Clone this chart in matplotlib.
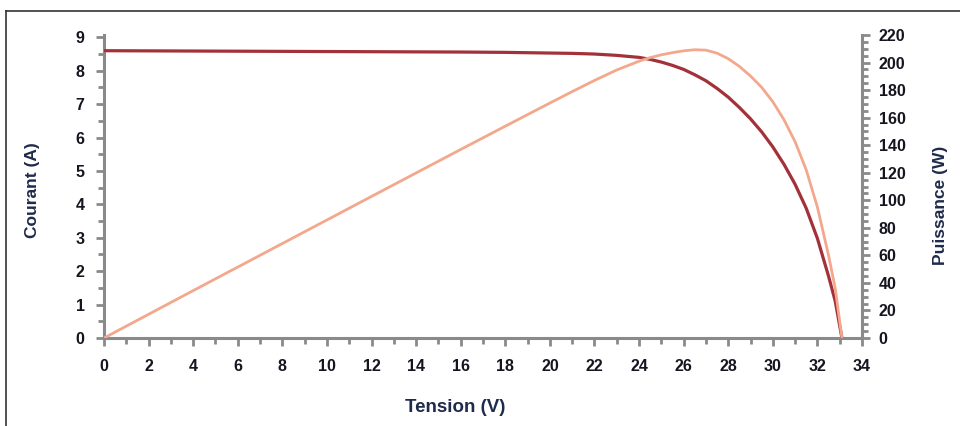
import numpy as np
import matplotlib
matplotlib.use('Agg')
import matplotlib.pyplot as plt
from matplotlib.ticker import MultipleLocator
from matplotlib.lines import Line2D

plt.rcParams['font.family'] = ['Liberation Sans', 'DejaVu Sans']
plt.rcParams['font.weight'] = 'bold'

# I-V characteristic of the panel
tension_iv = [0, 4, 8, 12, 16, 18, 20, 21, 22, 23, 24.0, 24.5, 25.0, 25.5, 26.0,
              26.5, 27.0, 27.5, 28.0, 28.5, 29.0, 29.5, 30.0, 30.5, 31.0, 31.5,
              32.0, 32.5, 32.8, 33.1]
courant = [8.60, 8.59, 8.58, 8.57, 8.56, 8.55, 8.53, 8.52, 8.50, 8.46, 8.40,
           8.34, 8.26, 8.16, 8.04, 7.88, 7.70, 7.47, 7.21, 6.90, 6.56, 6.17,
           5.72, 5.20, 4.60, 3.88, 2.98, 1.85, 1.10, 0.0]

# P-V characteristic of the panel
tension_pv = [0, 4, 8, 12, 16, 18, 20, 21, 22, 23, 24.0, 24.5, 25.0, 25.5, 26.0,
              26.5, 27.0, 27.5, 28.0, 28.5, 29.0, 29.5, 30.0, 30.5, 31.0, 31.5,
              32.0, 32.5, 32.8, 33.1]
puissance = [0, 34.4, 68.6, 102.8, 136.9, 153.8, 170.6, 178.9, 187.0, 194.6,
             201.0, 203.6, 205.6, 207.2, 208.5, 209.3, 209.0, 206.8, 202.8,
             197.2, 190.2, 182.0, 171.5, 158.5, 142.5, 122.0, 95.0, 60.0, 36.0, 0]

c_iv = '#a3313a'
c_pv = '#f3a88e'
c_axis = '#8a8a8a'
c_label = '#1f2b4a'
c_tick = '#151520'

fig = plt.figure(figsize=(9.6, 4.26), dpi=100)
ax = fig.add_axes([104 / 960, 1 - 338 / 426, 758 / 960, 303 / 426])
ax2 = ax.twinx()

ax.plot(tension_iv, courant, color=c_iv, lw=2.3, solid_capstyle='round',
        solid_joinstyle='round', zorder=3)
ax2.plot(tension_pv, puissance, color=c_pv, lw=2.0, solid_capstyle='round',
         solid_joinstyle='round', zorder=2)

ax.set_xlim(0, 34)
ax.set_ylim(0, 9.07)
ax2.set_ylim(0, 220)

for a in (ax, ax2):
    for s in a.spines.values():
        s.set_visible(False)
    a.patch.set_visible(False)
ax.spines['left'].set_visible(True)
ax.spines['bottom'].set_visible(True)
ax2.spines['right'].set_visible(True)
for s in (ax.spines['left'], ax.spines['bottom'], ax2.spines['right']):
    s.set_color(c_axis)
    s.set_linewidth(2.2)

ax.xaxis.set_major_locator(MultipleLocator(2))
ax.xaxis.set_minor_locator(MultipleLocator(1))
ax.yaxis.set_major_locator(MultipleLocator(1))
ax.yaxis.set_minor_locator(MultipleLocator(0.5))
ax2.yaxis.set_major_locator(MultipleLocator(20))
ax2.yaxis.set_minor_locator(MultipleLocator(5))

ax.tick_params(axis='both', which='major', direction='out', length=6, width=2,
               color=c_axis, labelsize=11.5, labelcolor=c_tick, pad=8)
ax.tick_params(axis='both', which='minor', direction='out', length=4, width=2,
               color=c_axis)
ax.tick_params(axis='x', pad=9)
ax2.tick_params(axis='y', which='major', direction='out', length=6, width=2,
                color=c_axis, labelsize=11.5, labelcolor=c_tick, pad=6)
ax2.tick_params(axis='y', which='minor', direction='out', length=4, width=2,
                color=c_axis)

fig.text(455 / 960, 1 - 407 / 426, 'Tension (V)', ha='center', va='center',
         fontsize=13.5, fontweight='bold', color=c_label)
fig.text(32 / 960, 1 - 190 / 426, 'Courant (A)', ha='center', va='center',
         rotation=90, fontsize=12.5, fontweight='bold', color=c_label)
fig.text(940 / 960, 1 - 205 / 426, 'Puissance (W)', ha='center', va='center',
         rotation=90, fontsize=12.5, fontweight='bold', color=c_label)

# outer frame (top and left edges)
fig.add_artist(Line2D([6 / 960, 1], [1 - 10.5 / 426] * 2, transform=fig.transFigure,
                      color='#333333', lw=1.2))
fig.add_artist(Line2D([6 / 960] * 2, [0, 1 - 10.5 / 426], transform=fig.transFigure,
                      color='#333333', lw=1.2))

fig.savefig('out.png', dpi=100)
